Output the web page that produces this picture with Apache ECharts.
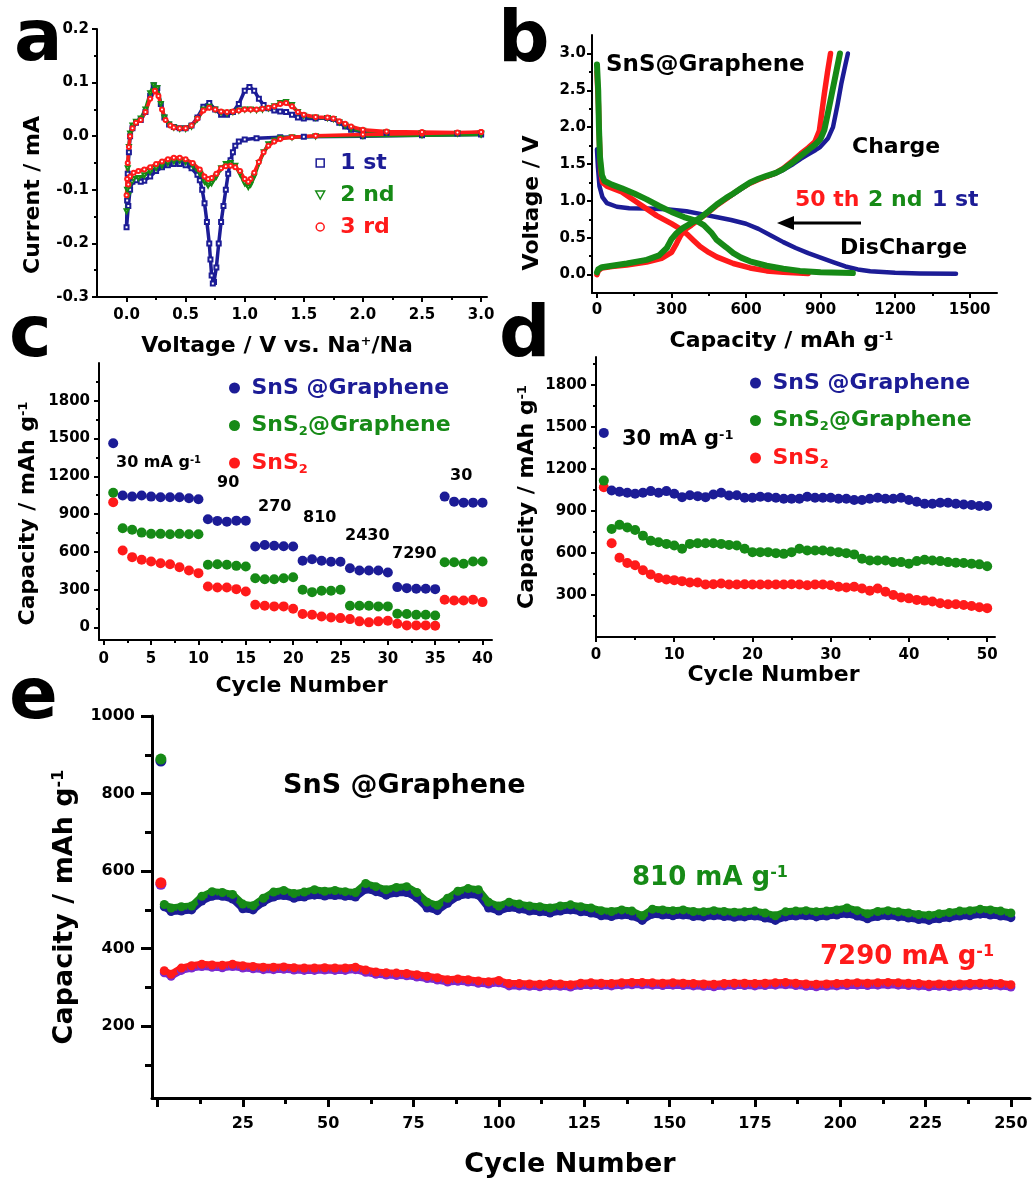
<!DOCTYPE html>
<html><head><meta charset="utf-8">
<script src="https://cdn.jsdelivr.net/npm/echarts@6/dist/echarts.min.js"></script>
<style>html,body{margin:0;padding:0;background:#fff}#chart{width:1032px;height:1179px}</style>
</head><body><div id="chart"></div>
<script>
// ---------------- DATA ----------------
// Panel a: cyclic voltammetry [voltage V, current mA]
const cv1st = [[3.0,0.003],[2.5,0.002],[2.0,0.0],[1.5,-0.001],[1.3,-0.002],[1.1,-0.004],[1.0,-0.006],[0.95,-0.01],[0.92,-0.018],[0.9,-0.03],[0.88,-0.045],[0.86,-0.07],[0.84,-0.1],[0.82,-0.13],[0.8,-0.16],[0.78,-0.2],[0.76,-0.245],[0.74,-0.272],[0.73,-0.275],[0.72,-0.26],[0.71,-0.23],[0.7,-0.2],[0.68,-0.16],[0.66,-0.125],[0.64,-0.1],[0.62,-0.082],[0.6,-0.072],[0.55,-0.06],[0.5,-0.054],[0.45,-0.052],[0.4,-0.052],[0.35,-0.054],[0.3,-0.058],[0.25,-0.065],[0.2,-0.075],[0.15,-0.083],[0.12,-0.085],[0.08,-0.082],[0.05,-0.085],[0.03,-0.1],[0.015,-0.13],[0.0,-0.17],[0.005,-0.12],[0.01,-0.07],[0.02,-0.03],[0.03,0.0],[0.05,0.015],[0.08,0.025],[0.12,0.03],[0.16,0.045],[0.2,0.075],[0.23,0.095],[0.26,0.09],[0.29,0.06],[0.32,0.035],[0.36,0.022],[0.4,0.017],[0.45,0.015],[0.5,0.015],[0.55,0.02],[0.6,0.035],[0.65,0.055],[0.7,0.062],[0.75,0.05],[0.8,0.04],[0.85,0.04],[0.9,0.045],[0.95,0.06],[1.0,0.085],[1.04,0.092],[1.08,0.085],[1.12,0.07],[1.16,0.058],[1.2,0.052],[1.25,0.048],[1.3,0.046],[1.35,0.045],[1.4,0.04],[1.45,0.035],[1.5,0.033],[1.6,0.033],[1.7,0.034],[1.75,0.032],[1.8,0.025],[1.85,0.018],[1.9,0.012],[2.0,0.008],[2.2,0.006],[2.5,0.005],[2.8,0.005],[3.0,0.005]];
const cv2nd = [[3.0,0.003],[2.5,0.002],[2.0,0.001],[1.6,0.0],[1.4,-0.002],[1.3,-0.004],[1.25,-0.008],[1.2,-0.015],[1.16,-0.03],[1.12,-0.05],[1.08,-0.075],[1.05,-0.09],[1.03,-0.095],[1.0,-0.088],[0.96,-0.07],[0.92,-0.055],[0.88,-0.05],[0.84,-0.052],[0.8,-0.06],[0.76,-0.075],[0.72,-0.088],[0.69,-0.092],[0.66,-0.085],[0.62,-0.07],[0.56,-0.055],[0.5,-0.048],[0.45,-0.046],[0.4,-0.047],[0.35,-0.05],[0.3,-0.055],[0.25,-0.06],[0.2,-0.066],[0.15,-0.073],[0.1,-0.078],[0.06,-0.08],[0.03,-0.09],[0.015,-0.11],[0.0,-0.14],[0.005,-0.1],[0.01,-0.06],[0.02,-0.02],[0.03,0.005],[0.05,0.02],[0.08,0.027],[0.12,0.033],[0.16,0.05],[0.2,0.08],[0.23,0.095],[0.26,0.09],[0.29,0.06],[0.32,0.035],[0.36,0.022],[0.4,0.016],[0.45,0.014],[0.5,0.014],[0.55,0.018],[0.6,0.032],[0.65,0.05],[0.7,0.055],[0.75,0.05],[0.8,0.044],[0.85,0.043],[0.9,0.045],[0.95,0.048],[1.0,0.05],[1.05,0.05],[1.1,0.049],[1.15,0.05],[1.2,0.052],[1.25,0.056],[1.3,0.062],[1.35,0.064],[1.4,0.058],[1.45,0.045],[1.5,0.038],[1.6,0.035],[1.7,0.034],[1.75,0.032],[1.8,0.026],[1.85,0.02],[1.9,0.014],[2.0,0.01],[2.2,0.007],[2.5,0.006],[2.8,0.005],[3.0,0.005]];
const cv3rd = [[3.0,0.008],[2.5,0.005],[2.0,0.003],[1.6,0.001],[1.4,-0.002],[1.3,-0.005],[1.25,-0.01],[1.2,-0.018],[1.16,-0.03],[1.12,-0.048],[1.08,-0.068],[1.05,-0.08],[1.03,-0.085],[1.0,-0.08],[0.96,-0.065],[0.92,-0.058],[0.88,-0.055],[0.84,-0.056],[0.8,-0.06],[0.76,-0.07],[0.72,-0.078],[0.69,-0.08],[0.66,-0.075],[0.62,-0.062],[0.56,-0.05],[0.5,-0.043],[0.45,-0.04],[0.4,-0.04],[0.35,-0.043],[0.3,-0.047],[0.25,-0.052],[0.2,-0.058],[0.15,-0.062],[0.1,-0.065],[0.06,-0.068],[0.03,-0.075],[0.015,-0.09],[0.0,-0.11],[0.005,-0.08],[0.01,-0.05],[0.02,-0.02],[0.03,0.0],[0.05,0.015],[0.08,0.025],[0.12,0.03],[0.16,0.045],[0.2,0.07],[0.24,0.085],[0.27,0.075],[0.3,0.05],[0.33,0.03],[0.37,0.02],[0.4,0.016],[0.45,0.015],[0.5,0.015],[0.55,0.02],[0.6,0.033],[0.65,0.048],[0.7,0.053],[0.75,0.05],[0.8,0.046],[0.85,0.045],[0.9,0.046],[0.95,0.048],[1.0,0.05],[1.05,0.05],[1.1,0.05],[1.15,0.051],[1.2,0.053],[1.25,0.056],[1.3,0.06],[1.35,0.062],[1.4,0.056],[1.45,0.045],[1.5,0.04],[1.6,0.036],[1.7,0.035],[1.75,0.033],[1.8,0.028],[1.85,0.023],[1.9,0.018],[2.0,0.012],[2.2,0.009],[2.5,0.008],[2.8,0.007],[3.0,0.008]];

// Panel b: charge/discharge [capacity mAh/g, voltage V]
const dis1st = [[0,1.7],[4,1.45],[10,1.2],[22,1.05],[40,0.97],[80,0.92],[130,0.9],[200,0.895],[280,0.885],[360,0.86],[420,0.82],[480,0.78],[540,0.74],[600,0.69],[650,0.62],[700,0.53],[750,0.44],[800,0.36],[850,0.29],[900,0.23],[950,0.17],[1000,0.11],[1050,0.07],[1100,0.045],[1200,0.025],[1300,0.015],[1445,0.01]];
const dis2nd = [[0,2.85],[5,2.5],[8,2.0],[12,1.6],[20,1.35],[30,1.27],[60,1.22],[100,1.17],[150,1.1],[200,1.02],[250,0.93],[300,0.85],[350,0.78],[400,0.73],[430,0.67],[460,0.57],[482,0.47],[520,0.37],[549,0.29],[580,0.23],[616,0.18],[683,0.12],[750,0.08],[817,0.05],[900,0.03],[1030,0.02]];
const dis50th = [[0,2.75],[6,2.3],[10,1.8],[15,1.4],[22,1.25],[40,1.2],[100,1.12],[174,0.95],[240,0.8],[300,0.69],[340,0.61],[362,0.55],[390,0.46],[415,0.38],[450,0.3],[482,0.24],[549,0.15],[616,0.09],[683,0.05],[750,0.03],[850,0.015]];
const chg1st = [[0,0.03],[5,0.07],[20,0.1],[60,0.12],[120,0.15],[200,0.2],[250,0.26],[281,0.36],[300,0.48],[320,0.56],[345,0.63],[380,0.7],[415,0.77],[450,0.86],[482,0.94],[520,1.03],[549,1.09],[580,1.16],[616,1.24],[650,1.29],[683,1.33],[720,1.37],[750,1.42],[790,1.5],[820,1.57],[850,1.63],[880,1.69],[898,1.73],[930,1.85],[950,2.0],[968,2.3],[984,2.6],[1000,2.85],[1010,3.0]];
const chg2nd = [[0,0.03],[5,0.07],[20,0.1],[60,0.12],[120,0.15],[200,0.2],[250,0.26],[281,0.36],[300,0.48],[320,0.56],[345,0.63],[380,0.7],[415,0.77],[450,0.86],[482,0.95],[520,1.04],[549,1.1],[580,1.17],[616,1.25],[650,1.3],[683,1.34],[720,1.38],[750,1.43],[790,1.53],[820,1.61],[850,1.69],[880,1.77],[900,1.84],[915,1.96],[930,2.2],[945,2.45],[960,2.7],[978,3.0]];
const chg50th = [[0,0.0],[5,0.05],[20,0.09],[60,0.11],[120,0.13],[200,0.17],[260,0.22],[300,0.3],[320,0.42],[335,0.52],[350,0.6],[380,0.67],[415,0.76],[450,0.85],[482,0.94],[520,1.03],[549,1.1],[580,1.17],[616,1.24],[650,1.29],[683,1.33],[720,1.38],[750,1.44],[790,1.55],[820,1.64],[850,1.72],[877,1.8],[895,1.95],[905,2.2],[915,2.45],[928,2.75],[940,3.0]];

// Panel c: rate capability (cycle 1..40)
const cCycles = [1,2,3,4,5,6,7,8,9,10,11,12,13,14,15,16,17,18,19,20,21,22,23,24,25,26,27,28,29,30,31,32,33,34,35,36,37,38,39,40];
const cSnSG  = [1462,1047,1039,1047,1039,1034,1034,1034,1026,1018,859,846,840,848,848,642,655,648,645,642,529,542,529,521,521,470,452,452,452,436,320,312,307,307,304,1039,999,991,991,991];
const cSnS2G = [1070,788,775,753,743,743,740,743,740,740,497,502,497,489,484,391,383,383,391,399,299,280,291,291,299,172,172,172,167,167,108,106,100,100,95,518,518,505,523,523];
const cSnS2  = [994,611,558,537,523,510,502,478,452,431,325,317,317,304,285,180,172,167,167,148,106,100,87,79,74,66,48,40,48,53,29,16,16,16,13,219,214,214,219,201];
const cRateLabels = ['30 mA g{sup|-1}','90','270','810','2430','7290','30'];

// Panel d: cycling at 30 mA/g (cycle 1..50)
const dCycles = [1,2,3,4,5,6,7,8,9,10,11,12,13,14,15,16,17,18,19,20,21,22,23,24,25,26,27,28,29,30,31,32,33,34,35,36,37,38,39,40,41,42,43,44,45,46,47,48,49,50];
const dSnSG  = [1458,1046,1037,1030,1023,1030,1042,1030,1042,1023,999,1013,1006,999,1018,1030,1011,1013,995,995,1002,999,995,988,988,988,1002,995,995,995,988,988,978,978,988,995,988,988,995,978,966,952,952,959,959,952,947,943,936,936];
const dSnS2G = [1117,771,801,783,764,724,688,677,665,653,630,665,670,670,670,665,658,653,630,606,606,606,599,594,606,630,618,618,618,611,606,599,590,559,547,547,547,535,535,524,542,552,547,542,535,531,528,524,519,505];
const dSnS2  = [1070,670,566,528,512,477,446,422,411,406,399,389,389,375,377,382,375,375,377,375,375,375,375,375,377,375,370,375,375,370,359,354,359,347,330,347,323,300,283,276,265,260,253,241,234,234,229,222,213,206];

// Panel e: long cycling of SnS@Graphene at 810 and 7290 mA/g
const eCycles = [1,2,4,7,10,13,16,19,22,25,28,31,34,37,40,43,46,49,52,55,58,61,64,67,70,73,76,79,82,85,88,91,94,97,100,103,106,109,112,115,118,121,124,127,130,133,136,139,142,145,148,151,154,157,160,163,166,169,172,175,178,181,184,187,190,193,196,199,202,205,208,211,214,217,220,223,226,229,232,235,238,241,244,247,250];
const e810a = [889,514,505,508,510,535,547,545,540,515,511,530,546,550,542,546,552,548,550,547,545,568,560,552,558,560,545,520,512,530,548,555,552,520,510,520,515,510,508,505,510,513,508,505,498,496,500,497,485,502,500,498,500,496,495,498,496,494,495,497,492,485,495,497,498,495,497,500,505,498,490,496,498,495,492,488,486,490,493,497,498,502,500,497,492];
const e810b = [884,508,496,497,500,523,535,535,528,503,500,520,533,537,530,533,538,536,537,535,533,553,547,538,544,545,531,505,498,517,535,540,538,505,497,506,502,497,495,492,497,500,495,492,485,483,487,484,473,489,487,485,487,483,482,485,483,481,482,484,479,473,482,484,485,482,484,487,490,484,477,483,485,482,479,475,473,477,480,484,485,489,487,484,480];
const e7290a = [570,343,334,350,356,360,358,357,360,356,354,352,352,353,351,350,350,351,350,350,352,345,340,338,337,336,333,329,325,320,322,320,317,315,318,310,310,309,308,310,309,307,311,312,311,310,312,313,313,312,311,312,311,310,309,308,310,311,311,310,311,312,313,311,309,308,309,310,311,312,311,312,313,312,311,310,308,309,308,309,310,311,311,310,307];
const e7290b = [566,338,329,344,350,354,352,351,354,350,348,346,346,347,345,344,344,345,344,344,346,339,334,332,331,330,327,323,319,314,316,314,311,309,312,304,304,303,302,304,303,301,305,306,305,304,306,307,307,306,305,306,305,304,303,302,304,305,305,304,305,306,307,305,303,302,303,304,305,306,305,306,307,306,305,304,302,303,302,303,304,305,305,304,301];

// Tick values
const aXTicks = [0,0.5,1.0,1.5,2.0,2.5,3.0], aXMinor = [0.25,0.75,1.25,1.75,2.25,2.75];
const aYTicks = [-0.3,-0.2,-0.1,0.0,0.1,0.2], aYMinor = [-0.25,-0.15,-0.05,0.05,0.15];
const bXTicks = [0,300,600,900,1200,1500], bXMinor = [150,450,750,1050,1350];
const bYTicks = [0,0.5,1.0,1.5,2.0,2.5,3.0], bYMinor = [0.25,0.75,1.25,1.75,2.25,2.75];
const cXTicks = [0,5,10,15,20,25,30,35,40], cXMinor = [2.5,7.5,12.5,17.5,22.5,27.5,32.5,37.5];
const cYTicks = [0,300,600,900,1200,1500,1800], cYMinor = [150,450,750,1050,1350,1650,1950];
const dXTicks = [0,10,20,30,40,50], dXMinor = [5,15,25,35,45];
const dYTicks = [300,600,900,1200,1500,1800], dYMinor = [150,450,750,1050,1350,1650,1950];
const eXTicks = [0,25,50,75,100,125,150,175,200,225,250], eXLabels = [25,50,75,100,125,150,175,200,225,250];
const eXMinor = [12.5,37.5,62.5,87.5,112.5,137.5,162.5,187.5,212.5,237.5];
const eYTicks = [200,400,600,800,1000], eYMinor = [100,300,500,700,900];

// ---------------- STYLE / BUILD ----------------
const FONT = "'DejaVu Sans', 'Liberation Sans', sans-serif";
const BLUE = '#1c1c96', GREEN = '#168a16', RED = '#ff1a1a', PURPLE = '#7a2ad0';

function supRich(fs) {
  return { sup: { fontSize: Math.round(fs * 0.6), fontFamily: FONT, fontWeight: 'bold', color: '#000', verticalAlign: 'top' } };
}
function mkAxes(dim, grid, min, max, majors, labels, minors, o) {
  const pos = dim === 'x' ? 'bottom' : 'left';
  const lw = o.lw || 2;
  const main = {
    type: 'value', gridIndex: grid, min: min, max: max, position: pos,
    axisLine: { show: true, onZero: false, lineStyle: { color: '#000', width: lw } },
    axisTick: { show: true, inside: false, customValues: majors, length: o.tl || 5, lineStyle: { color: '#000', width: lw } },
    axisLabel: { show: true, customValues: labels, margin: o.margin, color: '#000', fontFamily: FONT, fontWeight: 'bold', fontSize: o.fs || 15, formatter: o.fmt || (v => String(v)) },
    splitLine: { show: false },
    name: o.name, nameLocation: 'middle', nameGap: o.gap,
    nameTextStyle: { color: '#000', fontFamily: FONT, fontWeight: 'bold', fontSize: o.nfs || 22, padding: o.npad || 0, rich: supRich(o.nfs || 22) }
  };
  const minor = {
    type: 'value', gridIndex: grid, min: min, max: max, position: pos,
    axisLine: { show: false, onZero: false },
    axisTick: { show: true, inside: false, customValues: minors, length: o.ml || 3, lineStyle: { color: '#000', width: lw } },
    axisLabel: { show: false }, splitLine: { show: false }
  };
  return [main, minor];
}
const f1 = v => v.toFixed(1);
const xAxes = [].concat(
  mkAxes('x', 0, -0.25, 3.05, aXTicks, aXTicks, aXMinor, { fmt: f1, margin: 11, name: 'Voltage / V vs. Na{sup|+}/Na', gap: 38, npad: [0, 30, 0, 0] }),
  mkAxes('x', 1, -20, 1610, bXTicks, bXTicks, bXMinor, { margin: 10, name: 'Capacity / mAh g{sup|-1}', gap: 37, npad: [0, 26, 0, 0] }),
  mkAxes('x', 2, -0.5, 41, cXTicks, cXTicks, cXMinor, { margin: 12, name: 'Cycle Number', gap: 35, npad: [0, 0, 0, 12] }),
  mkAxes('x', 3, 0, 51, dXTicks, dXTicks, dXMinor, { margin: 11, name: 'Cycle Number', gap: 27, npad: [0, 44, 0, 0] }),
  mkAxes('x', 4, -1.6, 255.6, eXTicks, eXLabels, eXMinor, { lw: 3, tl: 9, ml: 6, fs: 16, margin: 18, name: 'Cycle Number', nfs: 27, gap: 53, npad: [0, 42, 0, 0] })
);
const yAxes = [].concat(
  mkAxes('y', 0, -0.3, 0.2, aYTicks, aYTicks, aYMinor, { fmt: f1, margin: 8, name: 'Current / mA', gap: 53, npad: [0, 64, 0, 0] }),
  mkAxes('y', 1, -0.25, 3.25, bYTicks, bYTicks, bYMinor, { fmt: f1, margin: 6, name: 'Voltage / V', gap: 49, npad: [0, 78, 0, 0] }),
  mkAxes('y', 2, -100, 2100, cYTicks, cYTicks, cYMinor, { margin: 9, name: 'Capacity / mAh g{sup|-1}', gap: 60, npad: [0, 24, 0, 0] }),
  mkAxes('y', 3, 0, 2000, dYTicks, dYTicks, dYMinor, { margin: 9, name: 'Capacity / mAh g{sup|-1}', gap: 58 }),
  mkAxes('y', 4, 15, 1000, eYTicks, eYTicks, eYMinor, { lw: 3, tl: 11, ml: 7, fs: 16, margin: 17, name: 'Capacity / mAh g{sup|-1}', nfs: 27, gap: 74 })
);
const grids = [
  { left: 97, top: 29, width: 390, height: 268 },
  { left: 592, top: 35, width: 405, height: 258 },
  { left: 99, top: 363, width: 393, height: 277 },
  { left: 596, top: 357, width: 399, height: 280 },
  { left: 152, top: 716, width: 878, height: 383 }
];
const zip = (xs, ys) => xs.map((x, i) => [x, ys[i]]);

function cvSeries(name, data, color, symbol, rot) {
  return { type: 'line', name, xAxisIndex: 0, yAxisIndex: 0, data, symbol, symbolRotate: rot || 0, symbolSize: 4,
    showSymbol: true, lineStyle: { color, width: 3.5 }, itemStyle: { color, borderWidth: 1.2 }, z: 3 };
}
function gcdSeries(name, data, color, w) {
  return { type: 'line', name, xAxisIndex: 2, yAxisIndex: 2, data, showSymbol: false, symbol: 'none', smooth: false,
    lineStyle: { color, width: w, cap: 'round', join: 'round' }, itemStyle: { color } };
}
function dotSeries(name, ax, data, color, size) {
  return { type: 'scatter', name, xAxisIndex: ax, yAxisIndex: ax, data, symbol: 'circle', symbolSize: size,
    itemStyle: { color, opacity: 1 } };
}
// long-cycling band: first cycle as its own dot, later cycles as dense dotted band
function bandSeries(name, data, color) {
  return [
    dotSeries(name + ' (1st cycle)', 8, data.slice(0, 1), color, 11),
    { type: 'line', name, xAxisIndex: 8, yAxisIndex: 8, data: data.slice(1), symbol: 'circle', symbolSize: 9,
      showSymbol: true, lineStyle: { color, width: 7, join: 'round', cap: 'round' }, itemStyle: { color } }
  ];
}

const series = [
  cvSeries('1 st', cv1st, BLUE, 'emptyRect'),
  cvSeries('2 nd', cv2nd, GREEN, 'emptyTriangle', 180),
  cvSeries('3 rd', cv3rd, RED, 'emptyCircle'),
  gcdSeries('1st discharge', dis1st, BLUE, 4.5),
  gcdSeries('1st charge', chg1st, BLUE, 4.5),
  gcdSeries('50th discharge', dis50th, RED, 5.5),
  gcdSeries('50th charge', chg50th, RED, 5.5),
  gcdSeries('2nd discharge', dis2nd, GREEN, 6),
  gcdSeries('2nd charge', chg2nd, GREEN, 6),
  dotSeries('SnS2', 4, zip(cCycles, cSnS2), RED, 10),
  dotSeries('SnS2@Graphene', 4, zip(cCycles, cSnS2G), GREEN, 10),
  dotSeries('SnS @Graphene', 4, zip(cCycles, cSnSG), BLUE, 10),
  dotSeries('SnS2', 6, zip(dCycles, dSnS2), RED, 10),
  dotSeries('SnS2@Graphene', 6, zip(dCycles, dSnS2G), GREEN, 10),
  dotSeries('SnS @Graphene', 6, zip(dCycles, dSnSG), BLUE, 10)
].concat(
  bandSeries('810 mA/g (b)', zip(eCycles, e810b), BLUE),
  bandSeries('810 mA/g', zip(eCycles, e810a), GREEN),
  bandSeries('7290 mA/g (b)', zip(eCycles, e7290b), PURPLE),
  bandSeries('7290 mA/g', zip(eCycles, e7290a), RED)
);

function legRich(color) {
  return {
    n: { color, fontFamily: FONT, fontWeight: 'bold', fontSize: 22, lineHeight: 26 },
    s: { color, fontFamily: FONT, fontWeight: 'bold', fontSize: 13, lineHeight: 26, verticalAlign: 'bottom' }
  };
}
function legFmt(name) {
  if (name === 'SnS2@Graphene') return '{n|SnS}{s|2}{n|@Graphene}';
  if (name === 'SnS2') return '{n|SnS}{s|2}';
  return '{n|' + name + '}';
}
function legItems() {
  return [
    { name: 'SnS @Graphene', icon: 'circle', textStyle: { color: BLUE, rich: legRich(BLUE) } },
    { name: 'SnS2@Graphene', icon: 'circle', textStyle: { color: GREEN, rich: legRich(GREEN) } },
    { name: 'SnS2', icon: 'circle', textStyle: { color: RED, rich: legRich(RED) } }
  ];
}
const legends = [
  { orient: 'vertical', left: 315, top: 150, padding: 0, itemWidth: 30, itemHeight: 8, itemGap: 6, selectedMode: false,
    textStyle: { fontFamily: FONT, fontWeight: 'bold', fontSize: 22, lineHeight: 26 },
    data: [
      { name: '1 st', icon: 'path://M0,0H10V10H0Z', itemStyle: { color: '#fff', borderColor: BLUE, borderWidth: 1.5 }, textStyle: { color: BLUE } },
      { name: '2 nd', icon: 'path://M0,0H10L5,9Z', itemStyle: { color: '#fff', borderColor: GREEN, borderWidth: 1.5 }, textStyle: { color: GREEN } },
      { name: '3 rd', icon: 'path://M5,0A5,5,0,1,1,5,10A5,5,0,1,1,5,0Z', itemStyle: { color: '#fff', borderColor: RED, borderWidth: 1.5 }, textStyle: { color: RED } }
    ] },
  { orient: 'vertical', left: 229, top: 375, padding: 0, itemWidth: 24, itemHeight: 11, itemGap: 11.5, selectedMode: false,
    textStyle: { fontFamily: FONT, fontWeight: 'bold', fontSize: 22, lineHeight: 26 }, formatter: legFmt, data: legItems() },
  { orient: 'vertical', left: 750, top: 370, padding: 0, itemWidth: 24, itemHeight: 11, itemGap: 11.5, selectedMode: false,
    textStyle: { fontFamily: FONT, fontWeight: 'bold', fontSize: 22, lineHeight: 26 }, formatter: legFmt, data: legItems() }
];

function gtext(x, y, text, size, color) {
  const c = color || '#000';
  return { type: 'text', x, y, z: 50, silent: true,
    style: { text, fill: c, fontSize: size, fontWeight: 'bold', fontFamily: FONT,
      align: 'left', verticalAlign: 'middle', textAlign: 'left', textVerticalAlign: 'middle',
      rich: { sup: { fontSize: Math.round(size * 0.6), fontWeight: 'bold', fontFamily: FONT, fill: c, verticalAlign: 'top' } } } };
}
const graphics = [
  gtext(14, 41, 'a', 72), gtext(498, 42, 'b', 72), gtext(9, 337, 'c', 72), gtext(499, 337, 'd', 72), gtext(9, 699, 'e', 72),
  gtext(606, 65, 'SnS@Graphene', 23),
  gtext(852, 147, 'Charge', 22),
  gtext(795, 200, '50 th', 22, RED), gtext(868, 200, '2 nd', 22, GREEN), gtext(932, 200, '1 st', 22, BLUE),
  gtext(840, 248, 'DisCharge', 22),
  { type: 'line', z: 50, silent: true, shape: { x1: 790, y1: 223, x2: 861, y2: 223 }, style: { stroke: '#000', lineWidth: 3 } },
  { type: 'polygon', z: 50, silent: true, shape: { points: [[777, 223], [794, 216], [794, 230]] }, style: { fill: '#000' } },
  gtext(116, 463, cRateLabels[0], 16), gtext(217, 483, cRateLabels[1], 16), gtext(258, 507, cRateLabels[2], 16),
  gtext(303, 518, cRateLabels[3], 16), gtext(345, 536, cRateLabels[4], 16), gtext(392, 554, cRateLabels[5], 16),
  gtext(450, 476, cRateLabels[6], 16),
  gtext(622, 440, '30 mA g{sup|-1}', 21),
  gtext(283, 786, 'SnS @Graphene', 27),
  gtext(632, 878, '810 mA g{sup|-1}', 26, GREEN),
  gtext(820, 957, '7290 mA g{sup|-1}', 26, RED)
];

const chart = echarts.init(document.getElementById('chart'), null, { renderer: 'canvas' });
chart.setOption({
  backgroundColor: '#fff',
  animation: false,
  grid: grids,
  xAxis: xAxes,
  yAxis: yAxes,
  legend: legends,
  series: series,
  graphic: graphics
});
</script>
</body></html>
